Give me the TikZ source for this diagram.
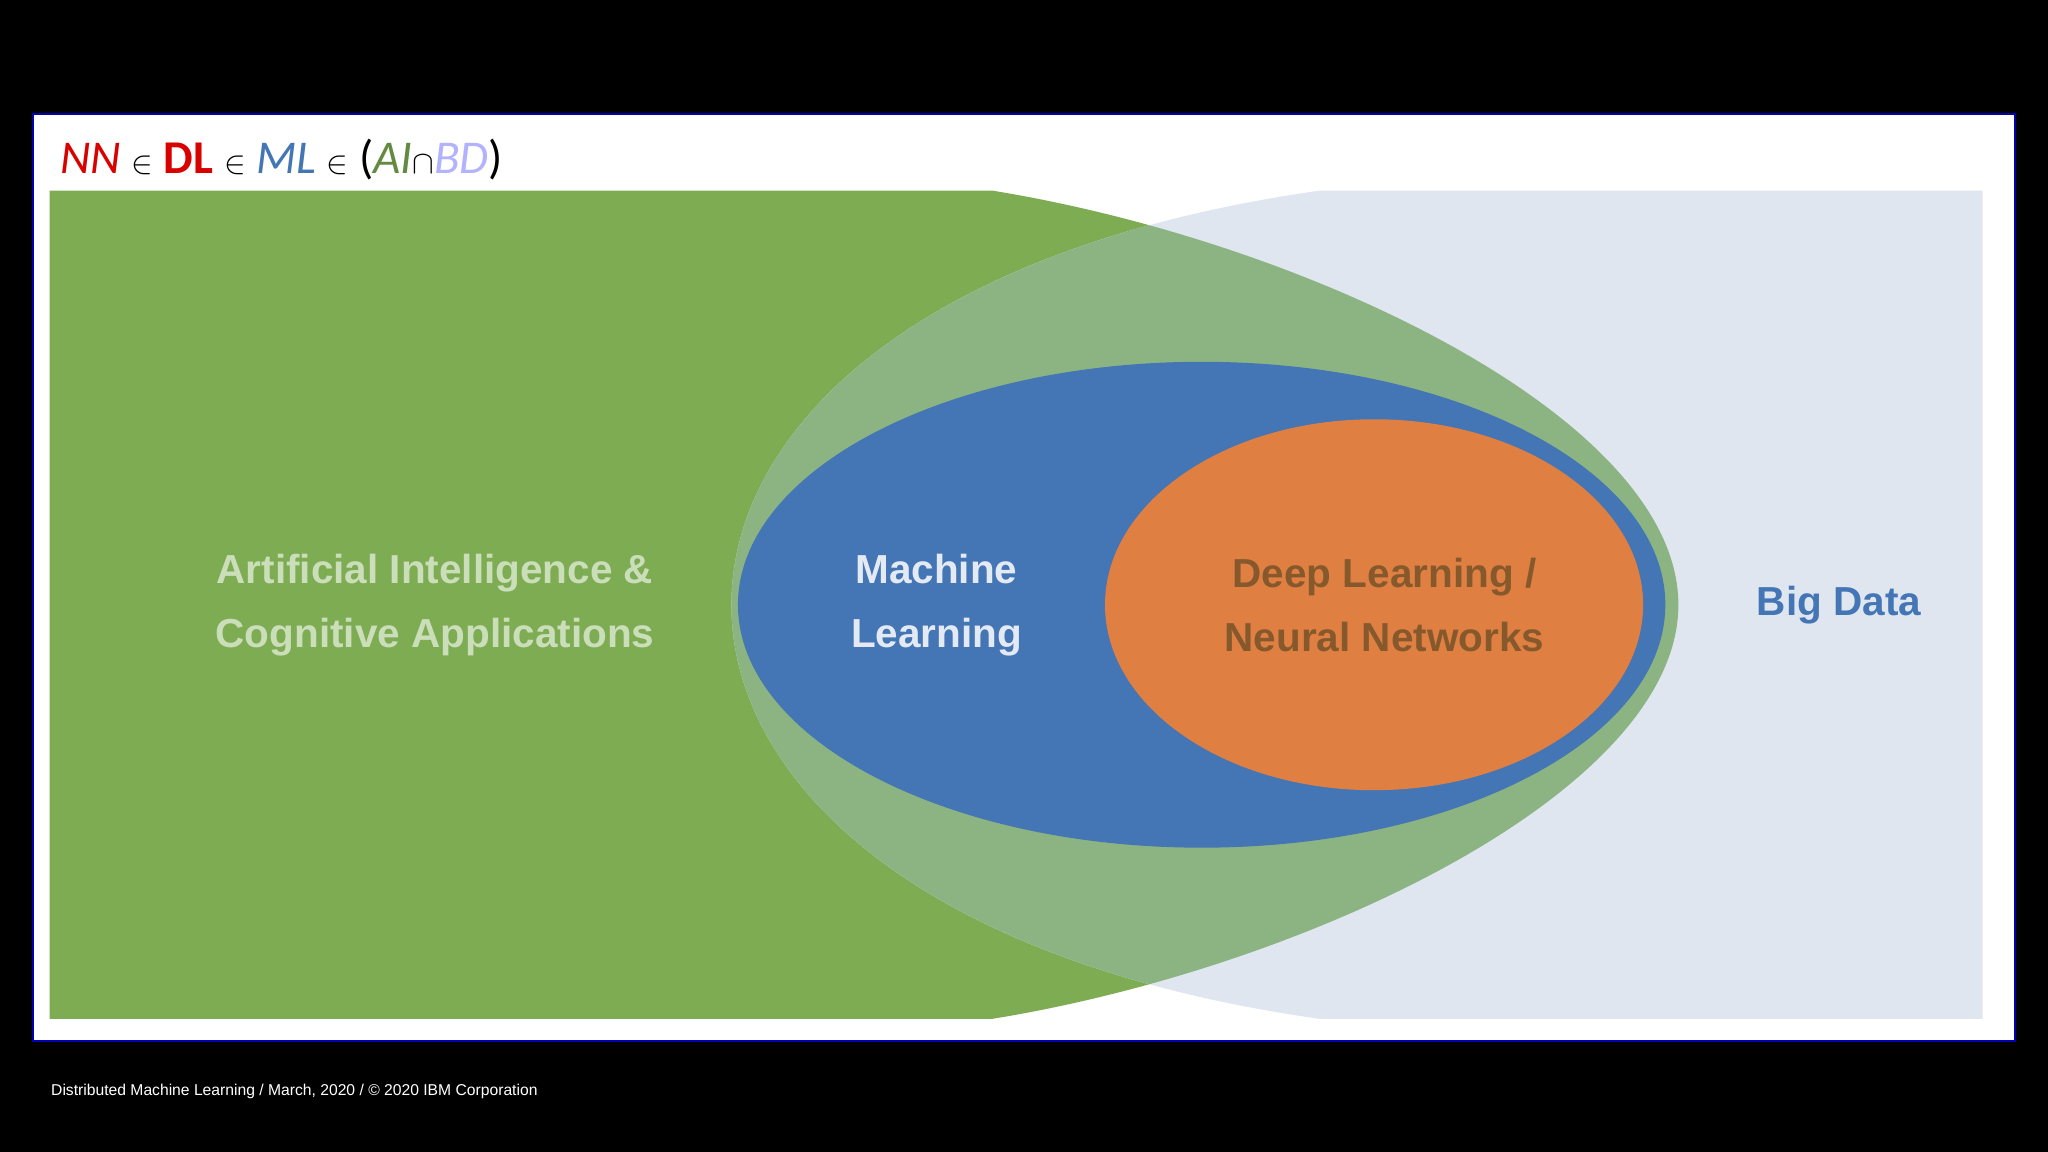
\documentclass[tikz,border=0pt]{standalone}
\usepackage{fontspec}
\setmainfont{Liberation Sans}
\newfontfamily\titlef{Carlito}
\begin{document}
\begin{tikzpicture}[x=1pt,y=-1pt,
  lbl/.style={font=\fontsize{31}{49}\selectfont\bfseries,align=center,inner sep=0}]
\definecolor{aig}{HTML}{7DAC53}
\definecolor{ovl}{HTML}{8CB382}
\definecolor{bdc}{HTML}{DFE6F0}
\definecolor{mlb}{HTML}{4475B4}
\definecolor{dlo}{HTML}{E07F42}
\fill[black] (0,0) rectangle (1568,882);
\useasboundingbox (0,0) rectangle (1568,882);
\draw[fill=white,draw=blue!70!black,line width=1.5] (25,87) rectangle (1543,797);
\def\aipath{(38,146) -- (760,146) .. controls (1000,185) and (1285,320) .. (1285,463) .. controls (1285,606) and (1000,741) .. (760,780) -- (38,780) -- cycle}
\def\bdpath{(1010,146) -- (1518,146) -- (1518,780) -- (1010,780) .. controls (700,736) and (560,596) .. (560,463) .. controls (560,330) and (700,190) .. (1010,146) -- cycle}
\fill[aig] \aipath;
\fill[bdc] \bdpath;
\begin{scope}
\clip \bdpath;
\fill[ovl] \aipath;
\end{scope}
\fill[mlb] (920,463) ellipse [x radius=355,y radius=186];
\fill[dlo] (1052,463) ellipse [x radius=206,y radius=142];
\node[lbl,text=aig!40!white] (ai) at (333,463) {Artificial Intelligence \&\\Cognitive Applications};
\node[lbl,text=mlb!15!white] (ml) at (717,463) {Machine\\Learning};
\node[lbl,text=brown!70!black] (dl) at (1060,463) {Deep Learning /\\Neural Networks};
\node[lbl,text=mlb] (bd) at (1408,463) {Big Data};
\node[anchor=west,inner sep=0,font=\titlef\fontsize{36}{36}\selectfont] (t) at (46,122)
 {\textcolor{red!85!black}{\itshape NN} $\in$ \textcolor{red!85!black}{\bfseries DL} $\in$ \textcolor{mlb}{\itshape ML} $\in$ (\textcolor{aig!80!black}{\itshape AI}$\cap$\textcolor{blue!30!white}{\itshape BD})};
\node[anchor=west,inner sep=0,text=white,font=\fontsize{12}{14}\selectfont] (f) at (39,836)
 {Distributed Machine Learning / March, 2020 / © 2020 IBM Corporation};
\end{tikzpicture}
\end{document}
